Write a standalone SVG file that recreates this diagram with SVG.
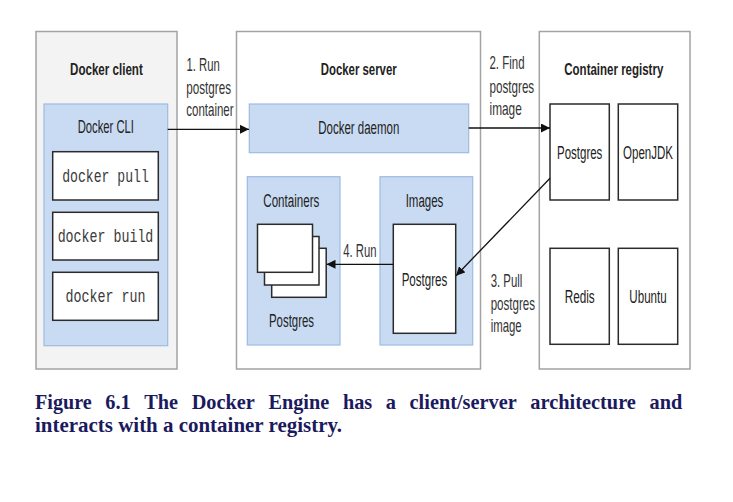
<svg xmlns="http://www.w3.org/2000/svg" width="733" height="502" viewBox="0 0 733 502">
<style>
.outer{stroke:#a3a3a3;stroke-width:1.5}
.blue{fill:#c9dbf2;stroke:#9dbbe2;stroke-width:1.2}
.wbox{fill:#fff;stroke:#2b2b2b;stroke-width:1.5}
text{font-family:"Liberation Sans",Arial,sans-serif;font-size:18px;fill:#222}
.h{font-weight:bold;font-size:17px;text-anchor:middle}
.c{text-anchor:middle}
.mono{font-family:"Liberation Mono","Courier New",monospace;font-size:18px;fill:#3a3a3a;text-anchor:middle}
.lbl{fill:#333;font-size:18.5px}
.cap{font-family:"Liberation Serif","Times New Roman",serif;font-size:21px;font-weight:bold;fill:#1b1a5e}
.conn line{stroke:#111;stroke-width:1.3;fill:none}
</style>
<defs>
<marker id="ah" viewBox="0 0 10 10" refX="10" refY="5" markerWidth="9" markerHeight="9" markerUnits="userSpaceOnUse" orient="auto">
<path d="M0,0 L10,5 L0,10 z" fill="#111"/>
</marker>
</defs>
<rect width="733" height="502" fill="#fff"/>

<g id="docker-client">
<rect class="outer" x="36" y="31.5" width="141" height="337.5" fill="#f3f3f3"/>
<text class="h" x="106.4" y="74.5" textLength="72.7" lengthAdjust="spacingAndGlyphs">Docker client</text>
</g>
<g id="docker-cli">
<rect class="blue" x="44" y="104" width="123.7" height="241.7"/>
<text class="c" x="105.8" y="133" textLength="56.3" lengthAdjust="spacingAndGlyphs">Docker CLI</text>
</g>
<g id="docker-pull">
<rect class="wbox" x="52.7" y="151.7" width="105.6" height="48.3"/>
<text class="mono" x="105.5" y="182" textLength="86.7" lengthAdjust="spacingAndGlyphs">docker pull</text>
</g>
<g id="docker-build">
<rect class="wbox" x="52.7" y="212.3" width="105.6" height="47.7"/>
<text class="mono" x="105.5" y="242" textLength="95.7" lengthAdjust="spacingAndGlyphs">docker build</text>
</g>
<g id="docker-run">
<rect class="wbox" x="52.7" y="272.3" width="105.6" height="48"/>
<text class="mono" x="105.5" y="302" textLength="80" lengthAdjust="spacingAndGlyphs">docker run</text>
</g>

<g id="docker-server">
<rect class="outer" x="236.5" y="31.5" width="244" height="337.5" fill="#fff"/>
<text class="h" x="358.7" y="74.5" textLength="76" lengthAdjust="spacingAndGlyphs">Docker server</text>
</g>
<g id="docker-daemon">
<rect class="blue" x="249.3" y="104" width="219.4" height="48.7"/>
<text class="c" x="358.8" y="134.3" textLength="81" lengthAdjust="spacingAndGlyphs">Docker daemon</text>
</g>
<g id="containers">
<rect class="blue" x="247.3" y="176.7" width="92.7" height="168.3"/>
<text class="c" x="291.3" y="206.5" textLength="56" lengthAdjust="spacingAndGlyphs">Containers</text>
<rect class="wbox" x="271.7" y="248.3" width="54.5" height="49"/>
<rect class="wbox" x="264.5" y="236.5" width="54.5" height="48.5"/>
<rect class="wbox" x="257.5" y="224.3" width="55" height="48"/>
<text class="c" x="291.5" y="326.5" textLength="45" lengthAdjust="spacingAndGlyphs">Postgres</text>
</g>
<g id="images">
<rect class="blue" x="380" y="176.7" width="92.7" height="168.3"/>
<text class="c" x="424.5" y="206.5" textLength="37.7" lengthAdjust="spacingAndGlyphs">Images</text>
</g>
<g id="postgres-image">
<rect class="wbox" x="393.3" y="224.3" width="62.4" height="109"/>
<text class="c" x="424.5" y="286" textLength="45.7" lengthAdjust="spacingAndGlyphs">Postgres</text>
</g>

<g id="container-registry">
<rect class="outer" x="539.3" y="31.5" width="150.7" height="337.5" fill="#fff"/>
<text class="h" x="613.8" y="74.5" textLength="99" lengthAdjust="spacingAndGlyphs">Container registry</text>
</g>
<g id="reg-postgres">
<rect class="wbox" x="550" y="104" width="59.3" height="96"/>
<text class="c" x="579.7" y="159" textLength="45.3" lengthAdjust="spacingAndGlyphs">Postgres</text>
</g>
<g id="reg-openjdk">
<rect class="wbox" x="618.3" y="104" width="59.4" height="96"/>
<text class="c" x="648" y="159" textLength="50" lengthAdjust="spacingAndGlyphs">OpenJDK</text>
</g>
<g id="reg-redis">
<rect class="wbox" x="550" y="248.3" width="59.3" height="96"/>
<text class="c" x="579.7" y="303" textLength="30" lengthAdjust="spacingAndGlyphs">Redis</text>
</g>
<g id="reg-ubuntu">
<rect class="wbox" x="618.3" y="248.3" width="59.4" height="96"/>
<text class="c" x="648" y="303" textLength="37.3" lengthAdjust="spacingAndGlyphs">Ubuntu</text>
</g>

<g id="connectors" class="conn">
<line x1="167.7" y1="129.3" x2="249" y2="129.3" marker-end="url(#ah)"/>
<line x1="468.7" y1="128" x2="550" y2="128" marker-end="url(#ah)"/>
<line x1="550" y1="178.3" x2="456" y2="275.7" marker-end="url(#ah)"/>
<line x1="393.3" y1="264.3" x2="326.5" y2="264.3" marker-end="url(#ah)"/>
</g>
<g id="connector-labels">
<text class="lbl" x="186.5" y="71" textLength="33.3" lengthAdjust="spacingAndGlyphs">1. Run</text>
<text class="lbl" x="186.3" y="93.5" textLength="44.7" lengthAdjust="spacingAndGlyphs">postgres</text>
<text class="lbl" x="186.3" y="116" textLength="47.3" lengthAdjust="spacingAndGlyphs">container</text>
<text class="lbl" x="489.5" y="69" textLength="35" lengthAdjust="spacingAndGlyphs">2. Find</text>
<text class="lbl" x="489.5" y="92.5" textLength="44.7" lengthAdjust="spacingAndGlyphs">postgres</text>
<text class="lbl" x="489.5" y="115" textLength="32.3" lengthAdjust="spacingAndGlyphs">image</text>
<text class="lbl" x="490.7" y="286.5" textLength="31.7" lengthAdjust="spacingAndGlyphs">3. Pull</text>
<text class="lbl" x="490.7" y="309.5" textLength="44.3" lengthAdjust="spacingAndGlyphs">postgres</text>
<text class="lbl" x="490.7" y="332" textLength="31" lengthAdjust="spacingAndGlyphs">image</text>
<text class="lbl" x="343.3" y="257" textLength="33.3" lengthAdjust="spacingAndGlyphs">4. Run</text>
</g>

<g id="caption">
<text class="cap" x="35" y="409" textLength="56.7" lengthAdjust="spacingAndGlyphs">Figure</text>
<text class="cap" x="105.3" y="409" textLength="25.4" lengthAdjust="spacingAndGlyphs">6.1</text>
<text class="cap" x="144.3" y="409" textLength="33.8" lengthAdjust="spacingAndGlyphs">The</text>
<text class="cap" x="191.7" y="409" textLength="63.1" lengthAdjust="spacingAndGlyphs">Docker</text>
<text class="cap" x="268.4" y="409" textLength="60.9" lengthAdjust="spacingAndGlyphs">Engine</text>
<text class="cap" x="342.9" y="409" textLength="29.3" lengthAdjust="spacingAndGlyphs">has</text>
<text class="cap" x="385.8" y="409" textLength="10.2" lengthAdjust="spacingAndGlyphs">a</text>
<text class="cap" x="409.6" y="409" textLength="107.1" lengthAdjust="spacingAndGlyphs">client/server</text>
<text class="cap" x="530.3" y="409" textLength="105.6" lengthAdjust="spacingAndGlyphs">architecture</text>
<text class="cap" x="649.5" y="409" textLength="32.7" lengthAdjust="spacingAndGlyphs">and</text>
<text class="cap" x="35" y="431.7" textLength="307" lengthAdjust="spacingAndGlyphs">interacts with a container registry.</text>
</g>
</svg>
